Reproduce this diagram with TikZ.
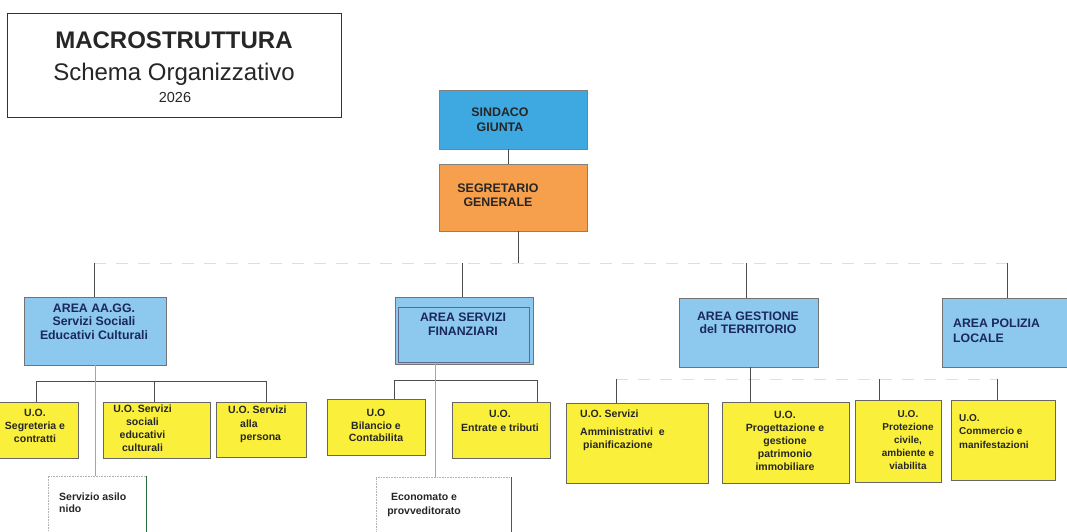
\documentclass[tikz,border=0pt]{standalone}
\usepackage{fontspec}
\setmainfont{Liberation Sans}

\definecolor{sindblue}{RGB}{62,168,224}
\definecolor{areablue}{RGB}{141,201,238}
\definecolor{segorange}{RGB}{246,160,78}
\definecolor{uoyellow}{RGB}{250,240,60}
\definecolor{navytext}{RGB}{26,40,90}
\definecolor{nidogreen}{RGB}{40,110,60}

\begin{document}
\begin{tikzpicture}[x=1pt,y=-1pt,
    box/.style={anchor=north west, inner sep=0pt, outer sep=0pt, line width=0.6pt},
    headbox/.style={box, draw=black!50},
    areabox/.style={box, draw=black!55, fill=areablue},
    uobox/.style={box, draw=black!60, fill=uoyellow},
    nidobox/.style={box, draw=black!30, densely dotted, fill=white},
    areatxt/.style={inner sep=0pt, anchor=north, align=center, text=navytext,
        font=\fontsize{12.3}{14}\selectfont\bfseries},
    uotxt/.style={inner sep=0pt, anchor=north, align=center, text=black!85,
        font=\fontsize{10.5}{13}\selectfont\bfseries},
    link/.style={draw=black!70, line width=0.7pt},
    thinlink/.style={draw=black!35, line width=0.5pt},
    faint/.style={draw=black!13, line width=0.6pt, dash pattern=on 12pt off 10pt}]

        \useasboundingbox[fill=white] (0,0) rectangle (1067,531);

        % title
        \node[box, draw=black!80, line width=0.8pt, minimum width=334pt, minimum height=104pt] (title) at (7,13) {};
        \node[anchor=base, inner sep=0pt, text=black!85, font=\fontsize{24}{26}\selectfont\bfseries] (title-a) at (174,48) {MACROSTRUTTURA};
        \node[anchor=base, inner sep=0pt, text=black!85, font=\fontsize{24}{26}\selectfont] (title-b) at (174,80) {Schema Organizzativo};
        \node[anchor=base, inner sep=0pt, text=black!85, font=\fontsize{14.5}{16}\selectfont] (title-c) at (175,102) {2026};

        % vertici
        \node[headbox, fill=sindblue, minimum width=148pt, minimum height=59pt] (sind) at (439,90) {};
        \node[areatxt, text=black!85, font=\fontsize{12.4}{15.5}\selectfont\bfseries] (sind-t) at (500,107.5) {SINDACO\\GIUNTA};
        \node[headbox, fill=segorange, minimum width=148pt, minimum height=67pt] (segr) at (439,164) {};
        \node[areatxt, text=black!85, font=\fontsize{12.4}{14}\selectfont\bfseries] (segr-t) at (498,183.5) {SEGRETARIO\\GENERALE};

        % aree
        \node[areabox, minimum width=142pt, minimum height=68pt] (aa) at (24,297) {};
        \node[areatxt, font=\fontsize{12.3}{13.5}\selectfont\bfseries] (aa-t) at (94,303.5) {AREA AA.GG.\\Servizi Sociali\\Educativi Culturali};
        \node[areabox, minimum width=138pt, minimum height=67pt] (fin) at (395,297) {};
        \draw[navytext!70, line width=0.6pt] ([shift={(3pt,-10pt)}]fin.north west) rectangle ([shift={(-4pt,2pt)}]fin.south east);
        \node[areatxt] (fin-t) at (463,312.5) {AREA SERVIZI\\FINANZIARI};
        \node[areabox, minimum width=139pt, minimum height=69pt] (gest) at (679,298) {};
        \node[areatxt, font=\fontsize{12.3}{13}\selectfont\bfseries] (gest-t) at (748,311.5) {AREA GESTIONE\\del TERRITORIO};
        \node[areabox, minimum width=139pt, minimum height=69pt] (pol) at (942,298) {};
        \node[areatxt, anchor=north west, align=left, font=\fontsize{12.3}{15}\selectfont\bfseries] (pol-t) at (953,318.5) {AREA POLIZIA\\LOCALE};

        % unita operative
        \node[uobox, minimum width=90pt, minimum height=56pt] (seg) at (-12,402) {};
        \node[uotxt] (seg-t) at (35,409) {U.O.\\Segreteria e\\contratti};
        \node[uobox, minimum width=107pt, minimum height=56pt] (soc) at (103,402) {};
        \node[uotxt] (soc-t) at (142.5,405) {U.O. Servizi\\sociali\\educativi\\culturali};
        \node[uobox, minimum width=90pt, minimum height=55pt] (pers) at (216,402) {};
        \node[uotxt, anchor=north west, align=left, font=\fontsize{10.5}{13.5}\selectfont\bfseries] (pers-t) at (228,406) {U.O. Servizi\\\hspace*{12pt}alla\\\hspace*{12pt}persona};
        \node[nidobox, minimum width=98pt, minimum height=70pt] (asilo) at (48,476) {};
        \node[uotxt, anchor=north west, align=left, font=\fontsize{10.5}{12}\selectfont\bfseries] (asilo-t) at (59,493) {Servizio asilo\\nido};

        \node[uobox, minimum width=98pt, minimum height=56pt] (bil) at (327,399) {};
        \node[uotxt, font=\fontsize{10.5}{12.5}\selectfont\bfseries] (bil-t) at (376,409) {U.O\\Bilancio e\\Contabilita};
        \node[uobox, minimum width=98pt, minimum height=56pt] (entr) at (452,402) {};
        \node[uotxt, font=\fontsize{10.5}{14}\selectfont\bfseries] (entr-t) at (500,410) {U.O.\\Entrate e tributi};
        \node[nidobox, minimum width=135pt, minimum height=70pt] (econ) at (376,477) {};
        \node[uotxt, font=\fontsize{10.5}{14}\selectfont\bfseries] (econ-t) at (424,493) {Economato e\\provveditorato};

        \node[uobox, minimum width=142pt, minimum height=80pt] (amm) at (566,403) {};
        \node[uotxt, anchor=north west, align=left] (amm-t) at (580,410) {U.O. Servizi\\[5pt]Amministrativi\ \ e\\\hspace*{3pt}pianificazione};
        \node[uobox, minimum width=127pt, minimum height=81pt] (prog) at (722,402) {};
        \node[uotxt] (prog-t) at (785,411) {U.O.\\Progettazione e\\gestione\\patrimonio\\immobiliare};
        \node[uobox, minimum width=86pt, minimum height=82pt] (prot) at (855,400) {};
        \node[uotxt, font=\fontsize{10}{13}\selectfont\bfseries] (prot-t) at (908,410) {U.O.\\Protezione\\civile,\\ambiente e\\viabilita};
        \node[uobox, minimum width=104pt, minimum height=80pt] (comm) at (951,400) {};
        \node[uotxt, anchor=north west, align=left, font=\fontsize{10}{13.5}\selectfont\bfseries] (comm-t) at (959,414) {U.O.\\Commercio e\\manifestazioni};

        % bordo verde dei servizi
        \draw[nidogreen, line width=0.8pt] (asilo.north east) -- (asilo.south east);
        \draw[nidogreen, line width=0.8pt] (econ.north east) -- (econ.south east);

        % collegamenti
        \coordinate (bus) at (518,263);
        \coordinate (dAA) at (94,263);
        \coordinate (dFIN) at (462,263);
        \coordinate (dGE) at (746,263);
        \coordinate (dPO) at (1007,263);
        \draw[link] ([xshift=-5pt]sind.south) -- ([xshift=-5pt]segr.north);
        \draw[link] (segr.south -| bus) -- (bus);
        \draw[faint] (dAA) -- (dPO);
        \foreach \d/\n in {dAA/aa, dFIN/fin, dGE/gest, dPO/pol}
            \draw[link] (\d) -- (\n.north -| \d);

        \coordinate (aaL) at (36,381);
        \coordinate (aaM) at (154,381);
        \coordinate (aaR) at (266,381);
        \draw[link] (seg.north -| aaL) -- (aaL) -- (aaR) -- (pers.north -| aaR);
        \draw[link] (aaM) -- (soc.north -| aaM);
        \draw[thinlink] (aa.south) -- (asilo.north -| aa.south);

        \coordinate (fiL) at (394,380);
        \coordinate (fiR) at (537,380);
        \coordinate (fiV) at (435,380);
        \draw[link] (bil.north -| fiL) -- (fiL) -- (fiR) -- (entr.north -| fiR);
        \draw[thinlink] (fin.south -| fiV) -- (econ.north -| fiV);

        \coordinate (geL) at (616,379);
        \coordinate (geM) at (750,379);
        \coordinate (geP) at (879,379);
        \coordinate (geR) at (997,379);
        \draw[faint] (geL) -- (geR);
        \draw[link] (gest.south -| geM) -- (prog.north -| geM);
        \foreach \c/\n in {geL/amm, geP/prot, geR/comm}
            \draw[link] (\c) -- (\n.north -| \c);
    \end{tikzpicture}
\end{document}
